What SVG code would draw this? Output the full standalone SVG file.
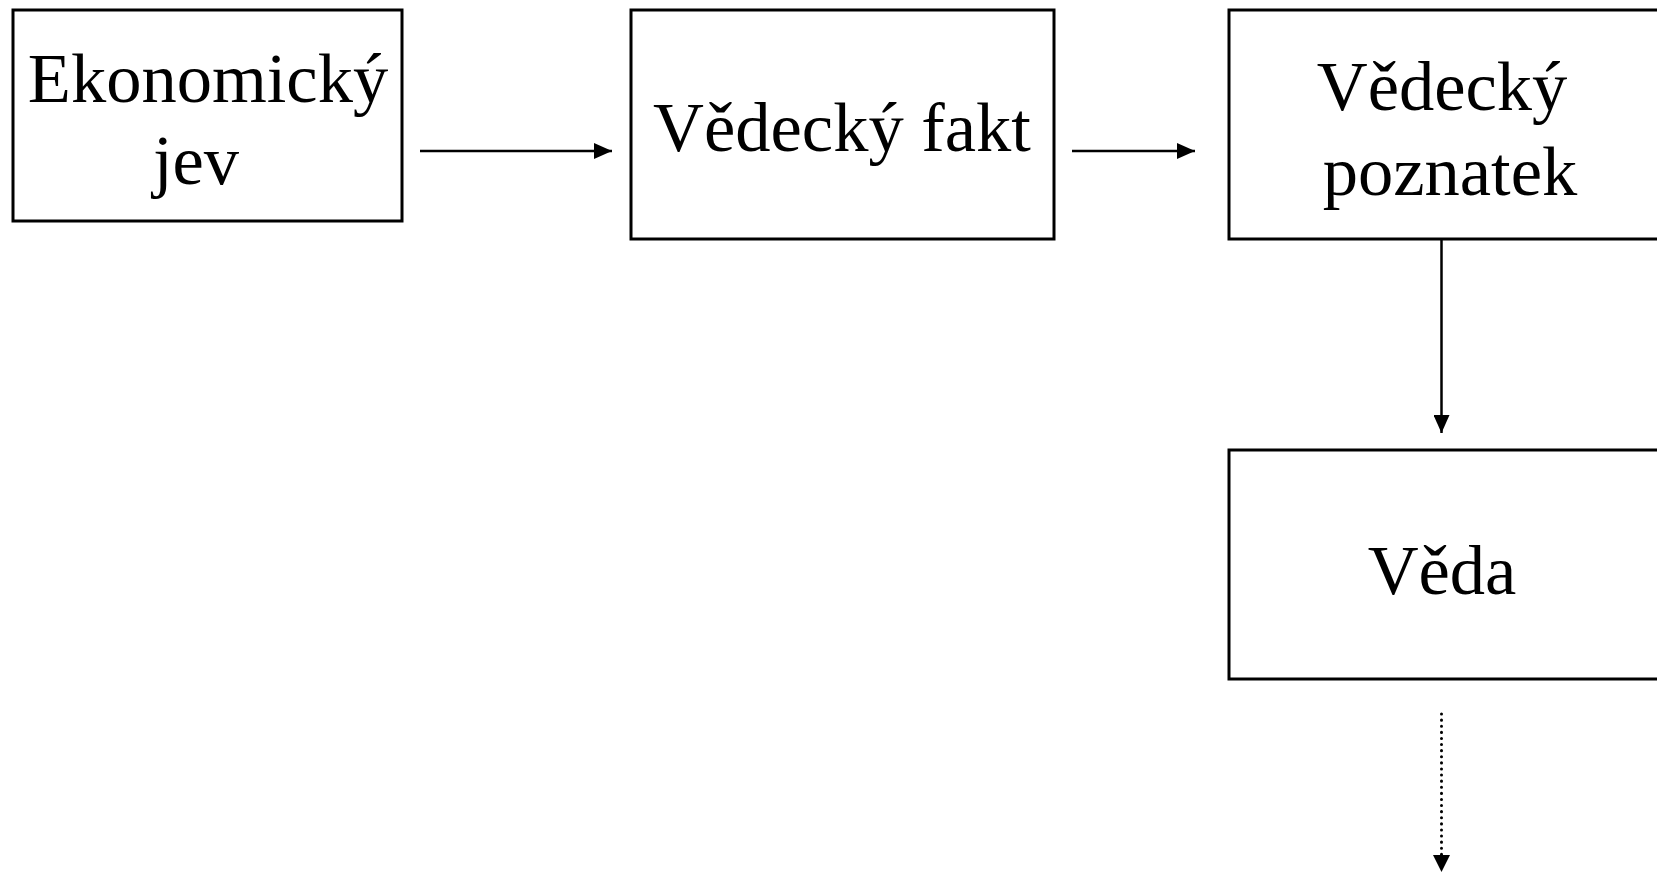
<svg xmlns="http://www.w3.org/2000/svg" width="1657" height="874" viewBox="0 0 1657 874">
<style>
.box{fill:#fff;stroke:#000;stroke-width:3}
.lbl{font-family:"Liberation Serif","Times New Roman",serif;font-size:70.5px;fill:#000;text-anchor:middle}
.ln{stroke:#000;stroke-width:2.5;fill:none}
.dot{stroke:#000;stroke-width:3;fill:none;stroke-dasharray:0.1 6;stroke-linecap:round}
</style>
<defs>
<marker id="ah" markerUnits="userSpaceOnUse" markerWidth="18" markerHeight="16" refX="18" refY="8" orient="auto">
<path d="M0,0 L18,8 L0,16 Z" fill="#000"/>
</marker>
</defs>
<rect width="1657" height="874" fill="#fff"/>
<g id="n1">
<rect class="box" x="13" y="10" width="389" height="211"/>
<text class="lbl" x="208" y="102">Ekonomický</text>
<text class="lbl" x="196" y="184">jev</text>
</g>
<g id="n2">
<rect class="box" x="631" y="10" width="423" height="229"/>
<text class="lbl" x="842" y="151">Vědecký fakt</text>
</g>
<g id="n3">
<rect class="box" x="1229" y="10" width="440" height="229"/>
<text class="lbl" x="1442" y="110">Vědecký</text>
<text class="lbl" x="1450" y="195">poznatek</text>
</g>
<g id="n4">
<rect class="box" x="1229" y="450" width="440" height="229"/>
<text class="lbl" x="1442" y="594">Věda</text>
</g>
<g id="connectors">
<line class="ln" x1="420" y1="151" x2="612" y2="151" marker-end="url(#ah)"/>
<line class="ln" x1="1072" y1="151" x2="1195" y2="151" marker-end="url(#ah)"/>
<line class="ln" x1="1441.5" y1="239" x2="1441.5" y2="433" marker-end="url(#ah)"/>
<line class="dot" x1="1441.5" y1="714" x2="1441.5" y2="856"/>
<path d="M1433,855 L1450,855 L1441.5,872 Z" fill="#000"/>
</g>
</svg>
